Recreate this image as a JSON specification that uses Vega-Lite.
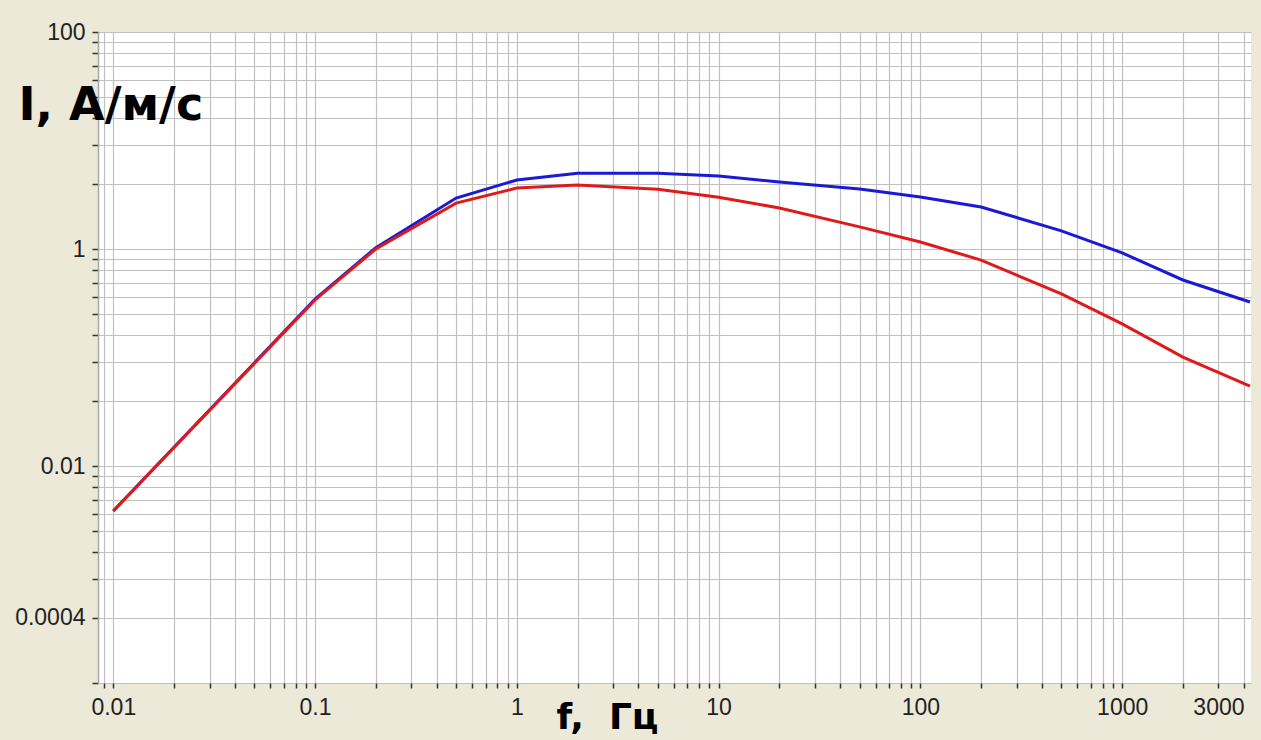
{
  "$schema": "https://vega.github.io/schema/vega-lite/v6.json",
  "width": 1153,
  "height": 651,
  "autosize": {"type": "none"},
  "padding": {"left": 98, "top": 32, "right": 10, "bottom": 57},
  "background": "#ECE9D8",
  "view": {"fill": "#FFFFFF", "stroke": null},
  "data": {"values": [
    {"f": 0.01, "I": 0.00385, "s": "b"},
    {"f": 0.1, "I": 0.345, "s": "b"},
    {"f": 0.2, "I": 1.03, "s": "b"},
    {"f": 0.5, "I": 2.95, "s": "b"},
    {"f": 1, "I": 4.33, "s": "b"},
    {"f": 2, "I": 5.0, "s": "b"},
    {"f": 5, "I": 5.0, "s": "b"},
    {"f": 10, "I": 4.71, "s": "b"},
    {"f": 20, "I": 4.15, "s": "b"},
    {"f": 50, "I": 3.57, "s": "b"},
    {"f": 100, "I": 3.01, "s": "b"},
    {"f": 200, "I": 2.44, "s": "b"},
    {"f": 500, "I": 1.47, "s": "b"},
    {"f": 1000, "I": 0.92, "s": "b"},
    {"f": 2000, "I": 0.518, "s": "b"},
    {"f": 4300, "I": 0.325, "s": "b"},
    {"f": 0.01, "I": 0.00385, "s": "r"},
    {"f": 0.1, "I": 0.339, "s": "r"},
    {"f": 0.2, "I": 1.0, "s": "r"},
    {"f": 0.5, "I": 2.65, "s": "r"},
    {"f": 1, "I": 3.65, "s": "r"},
    {"f": 2, "I": 3.89, "s": "r"},
    {"f": 5, "I": 3.56, "s": "r"},
    {"f": 10, "I": 3.0, "s": "r"},
    {"f": 20, "I": 2.39, "s": "r"},
    {"f": 50, "I": 1.6, "s": "r"},
    {"f": 100, "I": 1.16, "s": "r"},
    {"f": 200, "I": 0.79, "s": "r"},
    {"f": 500, "I": 0.385, "s": "r"},
    {"f": 1000, "I": 0.204, "s": "r"},
    {"f": 2000, "I": 0.101, "s": "r"},
    {"f": 4300, "I": 0.0546, "s": "r"}
  ]},
  "encoding": {
    "x": {
      "field": "f", "type": "quantitative",
      "scale": {"type": "log", "domain": [0.0084, 4350], "nice": false, "zero": false},
      "axis": {
        "values": [0.009, 0.01, 0.02, 0.03, 0.04, 0.05, 0.06, 0.07, 0.08, 0.09, 0.1, 0.2, 0.3, 0.4, 0.5, 0.6, 0.7, 0.8, 0.9, 1, 2, 3, 4, 5, 6, 7, 8, 9, 10, 20, 30, 40, 50, 60, 70, 80, 90, 100, 200, 300, 400, 500, 600, 700, 800, 900, 1000, 2000, 3000, 4000],
        "labelExpr": "indexof([0.01, 0.1, 1, 10, 100, 1000, 3000], datum.value) >= 0 ? format(datum.value, '~g') : ''",
        "labelOverlap": false,
        "labelFlush": false,
        "labelBound": false,
        "labelAlign": "center",
        "labelFont": "Liberation Sans",
        "labelFontSize": 23,
        "labelColor": "#222222",
        "labelPadding": 8,
        "ticks": true,
        "tickSize": 5,
        "tickColor": "#333333",
        "tickWidth": 1.5,
        "domain": false,
        "grid": true,
        "gridColor": "#c0c0c0",
        "gridWidth": 1.2,
        "title": "f,\u00a0\u00a0Гц",
        "titleFont": "DejaVu Sans",
        "titleFontWeight": "bold",
        "titleFontSize": 36,
        "titleColor": "#000000",
        "titleX": 509,
        "titleY": 45,
        "titleAlign": "center",
        "titleBaseline": "alphabetic",
        "zindex": 0
      }
    },
    "y": {
      "field": "I", "type": "quantitative",
      "scale": {"type": "log", "domain": [0.0001, 100], "nice": false, "zero": false},
      "axis": {
        "values": [100, 81, 64, 49, 36, 25, 16, 9, 4, 1, 0.81, 0.64, 0.49, 0.36, 0.25, 0.16, 0.09, 0.04, 0.01, 0.0081, 0.0064, 0.0049, 0.0036, 0.0025, 0.0016, 0.0009, 0.0004, 0.0001],
        "labelExpr": "indexof([100, 1, 0.01, 0.0004], datum.value) >= 0 ? format(datum.value, '~g') : ''",
        "labelOverlap": false,
        "labelFlush": false,
        "labelBound": false,
        "labelFont": "Liberation Sans",
        "labelFontSize": 23,
        "labelColor": "#222222",
        "labelPadding": 7,
        "tickSize": 6,
        "tickColor": "#333333",
        "tickWidth": 1.5,
        "domain": true,
        "domainColor": "#a8a8a8",
        "domainWidth": 1.5,
        "grid": true,
        "gridColor": "#c0c0c0",
        "gridWidth": 1.2,
        "title": "I, А/м/с",
        "titleFont": "DejaVu Sans",
        "titleFontWeight": "bold",
        "titleFontSize": 46,
        "titleColor": "#000000",
        "titleAngle": 0,
        "titleX": -80,
        "titleY": 87,
        "titleAlign": "left",
        "titleBaseline": "alphabetic",
        "zindex": 0
      }
    },
    "color": {
      "field": "s", "type": "nominal",
      "scale": {"domain": ["b", "r"], "range": ["#1a1ad6", "#e01a1a"]},
      "legend": null
    }
  },
  "layer": [
    {"transform": [{"filter": "datum.s === 'b'"}], "mark": {"type": "line", "strokeWidth": 3, "clip": true}},
    {"transform": [{"filter": "datum.s === 'r'"}], "mark": {"type": "line", "strokeWidth": 3, "clip": true}}
  ]
}
